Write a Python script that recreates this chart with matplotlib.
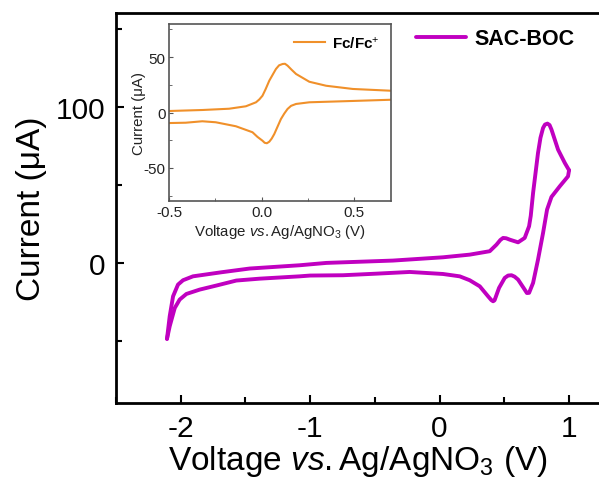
import matplotlib
matplotlib.use("Agg")
import matplotlib.pyplot as plt
from matplotlib.ticker import MultipleLocator

plt.rcParams['font.family'] = ['Liberation Sans', 'DejaVu Sans']
plt.rcParams['mathtext.fontset'] = 'custom'
plt.rcParams['mathtext.rm'] = 'Liberation Sans'
plt.rcParams['mathtext.it'] = 'Liberation Sans:italic'
plt.rcParams['mathtext.bf'] = 'Liberation Sans:bold'
plt.rcParams['axes.unicode_minus'] = False

# Main CV (SAC-BOC): forward (upper) branch from -2.1 V to 1.0 V
main_fwd_v = [-2.106, -2.085, -2.059, -2.021, -1.982, -1.905, -1.686, -1.467, -1.08, -0.874,
              -0.36, 0.027, 0.233, 0.388, 0.44, 0.47, 0.491, 0.515, 0.543, 0.607, 0.658, 0.692,
              0.705, 0.723, 0.761, 0.78, 0.80, 0.815, 0.834, 0.85, 0.865, 0.916, 0.968, 1.001]
main_fwd_i = [-48.9, -34.4, -21.6, -14.1, -11.3, -8.8, -6.2, -3.8, -1.7, -0.2,
              1.3, 3.4, 5.1, 7.3, 11.5, 14.5, 15.8, 15.6, 14.7, 13.0, 15.8, 23.3,
              30.0, 44.7, 70.3, 80.0, 86.3, 88.5, 89.1, 88.2, 85.3, 72.4, 63.9, 59.2]
# return (lower) branch from 1.0 V back to -2.1 V
main_rev_v = [1.001, 0.993, 0.929, 0.865, 0.831, 0.80, 0.761, 0.723, 0.692, 0.675, 0.658,
              0.607, 0.58, 0.556, 0.53, 0.504, 0.46, 0.425, 0.414, 0.40, 0.375, 0.311, 0.233,
              0.156, 0.027, -0.23, -0.49, -0.746, -1.0, -1.08, -1.39, -1.57, -1.724, -1.853,
              -1.956, -2.008, -2.046, -2.085, -2.106]
main_rev_i = [59.2, 55.3, 48.9, 42.1, 34.0, 19.0, 1.9, -13.0, -19.4, -19.5, -17.3,
              -10.9, -9.0, -8.1, -8.3, -9.8, -16.2, -24.2, -24.8, -24.0, -21.6, -15.2, -11.3,
              -8.8, -7.3, -6.0, -7.1, -8.1, -8.3, -8.8, -10.3, -11.5, -14.7, -17.3,
              -20.1, -23.7, -29.1, -40.8, -48.9]

# Inset CV (Fc/Fc+)
fc_fwd_v = [-0.52, -0.5, -0.321, -0.176, -0.085, -0.030, -0.012, 0.005, 0.022, 0.042, 0.078,
            0.095, 0.114, 0.127, 0.141, 0.163, 0.187, 0.259, 0.350, 0.495, 0.703, 0.72]
fc_fwd_i = [1.2, 1.35, 2.25, 3.4, 5.6, 9.2, 11.8, 15.1, 21.0, 28.7, 39.2,
            42.5, 43.7, 43.9, 42.2, 38.5, 34.7, 27.7, 24.1, 21.2, 19.6, 19.5]
fc_rev_v = [0.72, 0.703, 0.495, 0.259, 0.187, 0.160, 0.141, 0.123, 0.105, 0.069, 0.055,
            0.042, 0.029, 0.017, 0.005, -0.022, -0.049, -0.139, -0.248, -0.321, -0.411,
            -0.5, -0.52]
fc_rev_i = [11.6, 11.5, 10.4, 9.2, 7.7, 6.0, 3.2, -1.0, -5.9, -19.4, -23.5,
            -26.3, -27.7, -27.3, -25.4, -22.0, -17.8, -12.4, -8.8, -7.9, -9.2,
            -9.5, -9.5]

main_color = '#C000C0'
fc_color = '#F0902A'

fig = plt.figure(figsize=(5.99, 4.89), dpi=100)
ax = fig.add_axes([116/599, 1-404/489, 504.7/599, 390/489])
ax.plot(main_fwd_v, main_fwd_i, color=main_color, lw=2.8, label='SAC-BOC',
        solid_joinstyle='round', solid_capstyle='round')
ax.plot(main_rev_v, main_rev_i, color=main_color, lw=2.8,
        solid_joinstyle='round', solid_capstyle='round')
ax.set_xlim(-2.5, 1.4)
ax.set_ylim(-90, 160)
ax.xaxis.set_major_locator(MultipleLocator(1))
ax.xaxis.set_minor_locator(MultipleLocator(0.5))
ax.yaxis.set_major_locator(MultipleLocator(100))
ax.yaxis.set_minor_locator(MultipleLocator(50))
ax.tick_params(which='both', direction='in', width=1.5, labelsize=21.5)
ax.tick_params(which='major', length=6, pad=8)
ax.tick_params(which='minor', length=4)
for s in ax.spines.values():
    s.set_linewidth(2)
ax.set_xlabel('Voltage $\\it{vs.}$Ag/AgNO$_3$ (V)', fontsize=24)
ax.xaxis.set_label_coords((357.5 - 116) / 504.7, -(462 - 404) / 390, transform=ax.transAxes)
ax.xaxis.label.set_verticalalignment('center')
ax.set_ylabel('Current (μA)', fontsize=24, labelpad=6)
leg = ax.legend(loc='upper left', bbox_to_anchor=(0.565, 1.0), frameon=False,
                prop={'weight': 'bold', 'size': 15.5}, handlelength=2.3, handletextpad=0.4,
                borderaxespad=0.3)

ins = fig.add_axes([169.3/599, 1-202.3/489, 221.4/599, 177.6/489])
ins.plot(fc_fwd_v, fc_fwd_i, color=fc_color, lw=1.5, label='Fc/Fc$^{+}$')
ins.plot(fc_rev_v, fc_rev_i, color=fc_color, lw=1.5)
ins.set_xlim(-0.5, 0.7)
ins.set_ylim(-80, 80)
ins.xaxis.set_minor_locator(MultipleLocator(0.25))
ins.yaxis.set_minor_locator(MultipleLocator(25))
ins.set_xticks([-0.5, 0.0, 0.5])
ins.set_xticklabels(['-0.5', '0.0', '0.5'])
ins.set_yticks([-50, 0, 50])
ins.set_yticklabels(['-50', '0', '50'])
ins.tick_params(which='both', direction='in', labelsize=11, color='#555555', labelcolor='#222222')
ins.tick_params(which='major', length=3, pad=2.5)
ins.tick_params(which='minor', length=2)
for s in ins.spines.values():
    s.set_linewidth(1.2)
    s.set_color('#555555')
ins.set_xlabel('Voltage $\\it{vs.}$Ag/AgNO$_3$ (V)', fontsize=10.8, color='#222222')
ins.xaxis.set_label_coords(0.5, -(232 - 202.3) / 177.6, transform=ins.transAxes)
ins.xaxis.label.set_verticalalignment('center')
ins.set_ylabel('Current (μA)', fontsize=10.8, color='#222222')
ins.yaxis.set_label_coords((138.5 - 169.3) / 221.4, 0.5, transform=ins.transAxes)
ins.yaxis.label.set_verticalalignment('center')
ins.legend(loc='upper right', frameon=False, prop={'weight': 'bold', 'size': 11},
           handlelength=2.0, handletextpad=0.5, borderaxespad=0.3)

fig.savefig('out.png', dpi=100)
